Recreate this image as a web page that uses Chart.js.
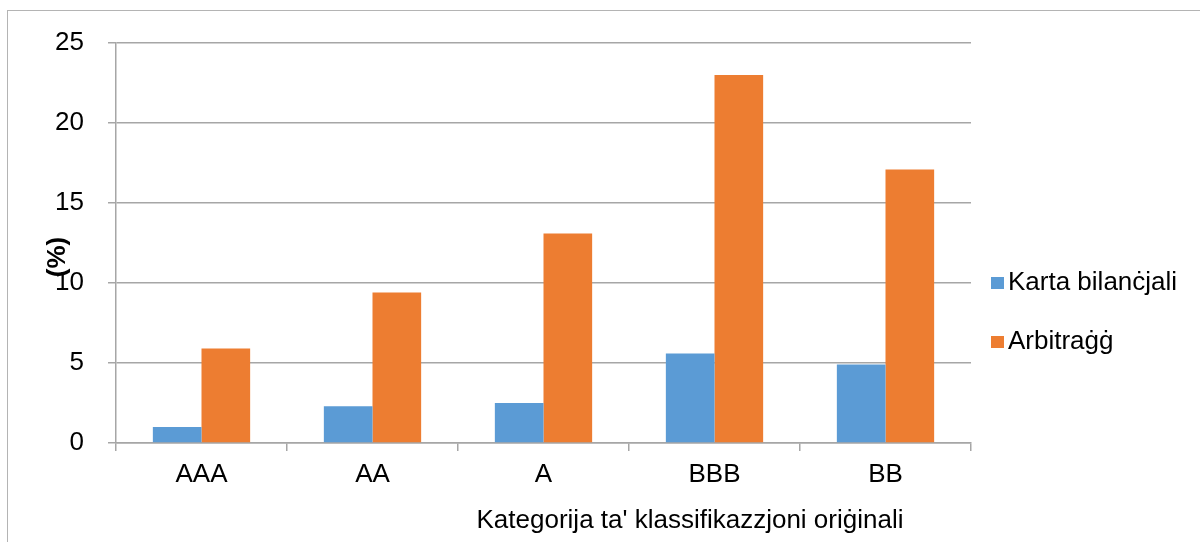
<!DOCTYPE html>
<html>
<head>
<meta charset="utf-8">
<script src="https://cdn.jsdelivr.net/npm/chart.js@4.4.0/dist/chart.umd.min.js"></script>
<style>
  html, body { margin: 0; padding: 0; background: #ffffff; }
  #wrap { width: 1200px; height: 542px; position: relative; }
</style>
</head>
<body>
<div id="wrap"><canvas id="c" width="1200" height="542"></canvas></div>
<script>
// Rating categories and the two series (percent)
const categories = ['AAA', 'AA', 'A', 'BBB', 'BB'];
const seriesNames = ['Karta bilanċjali', 'Arbitraġġ'];
const kartaBilancjali = [1.0, 2.3, 2.5, 5.6, 4.9];
const arbitragg = [5.9, 9.4, 13.1, 23.0, 17.1];
const yTicks = [0, 5, 10, 15, 20, 25];
const yTitle = '(%)';
const xTitle = "Kategorija ta' klassifikazzjoni oriġinali";

const FONT = '"Liberation Sans", Arial, sans-serif';
const FONT_SIZE = 26;
const GRID = '#a6a6a6';
const BLUE = '#5b9bd5';
const ORANGE = '#ed7d31';

// Frame, axis titles and the legend drawn on top of the chart canvas
const decor = {
  id: 'decor',
  beforeDraw(chart) {
    const ctx = chart.ctx;
    ctx.save();
    ctx.strokeStyle = '#b4b4b4';
    ctx.lineWidth = 1;
    ctx.strokeRect(7.5, 10.5, 1400, 700);
    ctx.restore();
  },
  afterDraw(chart) {
    const ctx = chart.ctx;
    ctx.save();
    ctx.fillStyle = '#000000';

    // y-axis title, rotated
    ctx.save();
    ctx.translate(58, 257);
    ctx.rotate(-Math.PI / 2);
    ctx.font = 'bold ' + FONT_SIZE + 'px ' + FONT;
    ctx.textAlign = 'center';
    ctx.textBaseline = 'middle';
    ctx.fillText(yTitle, 0, 0);
    ctx.restore();

    // x-axis title
    ctx.font = FONT_SIZE + 'px ' + FONT;
    ctx.textAlign = 'center';
    ctx.textBaseline = 'alphabetic';
    ctx.fillText(xTitle, 690, 528);

    // legend
    const items = chart.data.datasets;
    const rowY = [283, 342];
    items.forEach((ds, i) => {
      ctx.fillStyle = ds.backgroundColor;
      ctx.fillRect(991, rowY[i] - 6, 13, 12);
      ctx.fillStyle = '#000000';
      ctx.font = FONT_SIZE + 'px ' + FONT;
      ctx.textAlign = 'left';
      ctx.textBaseline = 'middle';
      ctx.fillText(ds.label, 1008, rowY[i]);
    });
    ctx.restore();
  }
};

new Chart(document.getElementById('c'), {
  type: 'bar',
  data: {
    labels: categories,
    datasets: [
      { label: seriesNames[0], data: kartaBilancjali, backgroundColor: BLUE, borderWidth: 0 },
      { label: seriesNames[1], data: arbitragg, backgroundColor: ORANGE, borderWidth: 0 }
    ]
  },
  options: {
    responsive: false,
    animation: false,
    devicePixelRatio: 1,
    layout: { padding: { top: 43, right: 229, bottom: 0, left: 0 } },
    datasets: { bar: { categoryPercentage: 0.569, barPercentage: 1.0 } },
    plugins: {
      legend: { display: false },
      tooltip: { enabled: false },
      title: { display: false }
    },
    scales: {
      x: {
        afterFit(scale) { scale.height = 99; },
        grid: { offset: true, drawOnChartArea: false, drawTicks: true, tickLength: 8, color: GRID, lineWidth: 1.5 },
        border: { display: true, color: GRID, width: 1.5 },
        ticks: { color: '#000000', padding: 8, font: { family: FONT, size: FONT_SIZE } }
      },
      y: {
        min: 0,
        max: 25,
        afterFit(scale) { scale.width = 116; },
        afterBuildTicks(scale) { scale.ticks = yTicks.map(v => ({ value: v })); },
        grid: { drawTicks: true, tickLength: 8, color: GRID, lineWidth: 1.5 },
        border: { display: true, color: GRID, width: 1.5 },
        ticks: { color: '#000000', padding: 24, font: { family: FONT, size: FONT_SIZE } }
      }
    }
  },
  plugins: [decor]
});
</script>
</body>
</html>
